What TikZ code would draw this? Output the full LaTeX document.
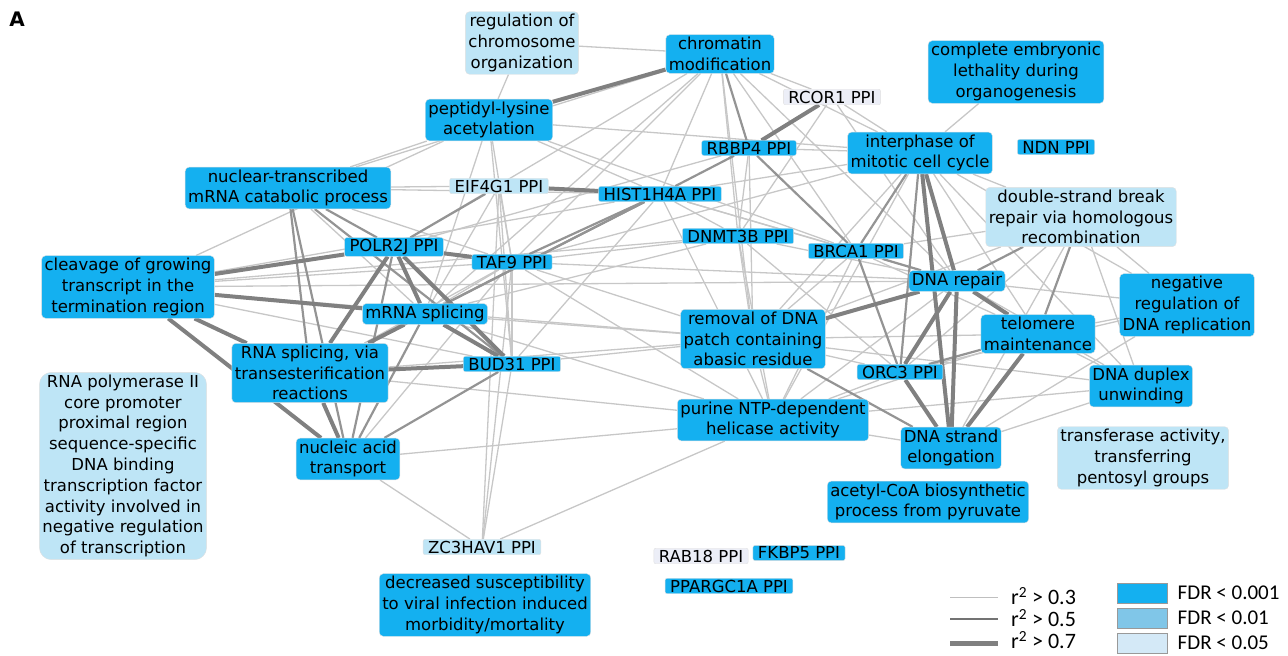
\documentclass[tikz,border=0pt]{standalone}
\usepackage{fontspec}
\setmainfont{DejaVu Sans}
\newfontfamily\legendfont{Carlito}
\usetikzlibrary{backgrounds,positioning}

\definecolor{fdrhi}{RGB}{20,176,240}
\definecolor{fdrmid}{RGB}{128,198,232}
\definecolor{fdrlo}{RGB}{190,229,246}
\definecolor{legendlo}{RGB}{212,233,247}
\definecolor{ppiwhite}{RGB}{236,238,247}

\newcommand{\termfont}{\fontsize{16.5}{20.8}\selectfont}

\tikzset{
  term/.style={rectangle, rounded corners=4pt, draw=black!12, fill=fdrhi,
    align=center, inner xsep=3pt, inner ysep=2.5pt, font=\termfont},
  ppi/.style={term, rounded corners=2pt, inner xsep=5pt, inner ysep=1.5pt},
  weak/.style={draw=black!22, line width=1.3pt},
  mid/.style={draw=black!42, line width=2.2pt},
  strong/.style={draw=black!50, line width=4pt},
  legtext/.style={inner sep=0pt, font=\legendfont\fontsize{21}{21}\selectfont},
  legbox/.style={draw=black!40, line width=1pt, minimum width=50pt, minimum height=20pt}
}

\begin{document}
\begin{tikzpicture}[x=1pt,y=-1pt]
  \useasboundingbox (0,0) rectangle (1288,656);

  % Panel letter
  \node[font=\bfseries\fontsize{20}{20}\selectfont] (panel) at (17,19) {A};

  % GO terms, FDR < 0.001
  \node[term] (chrommod) at (720,54) {chromatin\\modification};
  \node[term] (embryo) at (1016,72) {complete embryonic\\lethality during\\organogenesis};
  \node[term] (peplys) at (489,120) {peptidyl-lysine\\acetylation};
  \node[term] (interph) at (920,153) {interphase of\\mitotic cell cycle};
  \node[term] (nucmrna) at (288,188) {nuclear-transcribed\\mRNA catabolic process};
  \node[term] (cleav) at (128,287) {cleavage of growing\\transcript in the\\termination region};
  \node[term] (dnarep) at (957,281) {DNA repair};
  \node[term] (negrep) at (1187,305) {negative\\regulation of\\DNA replication};
  \node[term] (mrnaspl) at (425,314) {mRNA splicing};
  \node[term] (abasic) at (753,339) {removal of DNA\\patch containing\\abasic residue};
  \node[term] (telo) at (1038,334) {telomere\\maintenance};
  \node[term] (rnaspl) at (310,373) {RNA splicing, via\\transesterification\\reactions};
  \node[term] (duplex) at (1141,386) {DNA duplex\\unwinding};
  \node[term] (purine) at (773,420) {purine NTP-dependent\\helicase activity};
  \node[term] (nucacid) at (348,459) {nucleic acid\\transport};
  \node[term] (strand) at (951,448) {DNA strand\\elongation};
  \node[term] (acetyl) at (928,502) {acetyl-CoA biosynthetic\\process from pyruvate};
  \node[term] (viral) at (485,605) {decreased susceptibility\\to viral infection induced\\morbidity/mortality};

  % GO terms, FDR < 0.05
  \node[term, fill=fdrlo] (regchrom) at (522,43) {regulation of\\chromosome\\organization};
  \node[term, fill=fdrlo] (dsbr) at (1081,217) {double-strand break\\repair via homologous\\recombination};
  \node[term, fill=fdrlo] (transf) at (1143,458) {transferase activity,\\transferring\\pentosyl groups};
  \node[term, fill=fdrlo, rounded corners=12pt] (rnapol) at (123,466) {RNA polymerase II\\core promoter\\proximal region\\sequence-specific\\DNA binding\\transcription factor\\activity involved in\\negative regulation\\of transcription};

  % PPI nodes
  \node[ppi, fill=ppiwhite] (rcor) at (832,97) {RCOR1 PPI};
  \node[ppi] (rbbp) at (749,148) {RBBP4 PPI};
  \node[ppi] (ndn) at (1056,147) {NDN PPI};
  \node[ppi, fill=fdrlo] (eif) at (499,186) {EIF4G1 PPI};
  \node[ppi] (hist) at (660,194) {HIST1H4A PPI};
  \node[ppi] (dnmt) at (738,236) {DNMT3B PPI};
  \node[ppi] (brca) at (856,251) {BRCA1 PPI};
  \node[ppi] (polr) at (394,247) {POLR2J PPI};
  \node[ppi] (taf) at (512,262) {TAF9 PPI};
  \node[ppi] (bud) at (512,364) {BUD31 PPI};
  \node[ppi] (orc) at (900,372) {ORC3 PPI};
  \node[ppi, fill=fdrlo] (zc3) at (482,547) {ZC3HAV1 PPI};
  \node[ppi, fill=ppiwhite] (rab) at (701,556) {RAB18 PPI};
  \node[ppi] (fkbp) at (799,553) {FKBP5 PPI};
  \node[ppi] (ppar) at (729,586) {PPARGC1A PPI};

  \begin{pgfonlayer}{background}
  % Weak correlations
  \path[weak]
    (regchrom) edge (peplys) (regchrom) edge (chrommod)
    (chrommod) edge (rcor) (chrommod) edge (interph) (chrommod) edge (hist)
    (chrommod) edge (dnmt) (chrommod) edge (taf) (chrommod) edge (polr)
    (chrommod) edge (nucmrna) (chrommod) edge (dnarep) (chrommod) edge (brca)
    (chrommod) edge (abasic) (chrommod) edge (mrnaspl)
    (embryo) edge (interph)
    (rcor) edge (interph) (rcor) edge (dnarep) (rcor) edge (dnmt)
    (rbbp) edge (interph) (rbbp) edge (dnmt) (rbbp) edge (abasic) (rbbp) edge (polr)
    (peplys) edge (nucmrna) (peplys) edge (hist) (peplys) edge (interph)
    (peplys) edge (taf) (peplys) edge (mrnaspl) (peplys) edge (cleav)
    (peplys) edge (brca) (peplys) edge (bud)
    (nucmrna) edge (eif) (nucmrna) edge (taf) (nucmrna) edge (mrnaspl) (nucmrna) edge (hist)
    (eif) edge (mrnaspl) (eif) edge (bud) (eif) edge (zc3) (eif) edge (taf)
    (hist) edge (interph) (hist) edge (brca) (hist) edge (dnarep) (hist) edge (dnmt)
    (hist) edge (purine) (hist) edge (cleav) (hist) edge (bud)
    (dnmt) edge (dnarep) (dnmt) edge (orc) (dnmt) edge (abasic) (dnmt) edge (mrnaspl)
    (dnmt) edge (cleav) (dnmt) edge (purine) (dnmt) edge (taf)
    (interph) edge (dsbr) (interph) edge (telo) (interph) edge (abasic)
    (interph) edge (purine) (interph) edge (negrep) (interph) edge (duplex) (interph) edge (taf)
    (dsbr) edge (orc) (dsbr) edge (negrep) (dsbr) edge (duplex) (dsbr) edge (strand)
    (dsbr) edge (abasic) (dsbr) edge (brca)
    (dnarep) edge (negrep) (dnarep) edge (duplex) (dnarep) edge (purine)
    (dnarep) edge (cleav) (dnarep) edge (taf)
    (telo) edge (negrep) (telo) edge (duplex) (telo) edge (abasic) (telo) edge (purine)
    (negrep) edge (strand) (negrep) edge (orc)
    (duplex) edge (strand) (duplex) edge (purine) (duplex) edge (abasic)
    (abasic) edge (purine) (abasic) edge (cleav) (abasic) edge (mrnaspl) (abasic) edge (taf)
    (abasic) edge (bud) (abasic) edge (rnaspl) (abasic) edge (orc)
    (purine) edge (nucacid) (purine) edge (orc) (purine) edge (mrnaspl) (purine) edge (taf)
    (purine) edge (rnaspl) (purine) edge (strand) (purine) edge (zc3)
    (taf) edge (mrnaspl) (taf) edge (bud) (taf) edge (nucacid) (taf) edge (rnaspl) (taf) edge (cleav)
    (cleav) edge (bud) (bud) edge (zc3) (nucacid) edge (zc3) (zc3) edge (taf)
    (brca) edge (abasic) (brca) edge (purine) (brca) edge (telo);

  % Medium correlations
  \path[mid]
    (rbbp) edge (hist) (rbbp) edge (brca) (chrommod) edge (rbbp)
    (hist) edge (mrnaspl) (hist) edge (rnaspl) (taf) edge (hist) (eif) edge (polr)
    (nucmrna) edge (nucacid) (nucmrna) edge (rnaspl) (nucmrna) edge (polr) (nucmrna) edge (bud)
    (polr) edge (nucacid) (mrnaspl) edge (nucacid) (bud) edge (nucacid)
    (interph) edge (orc) (interph) edge (brca) (brca) edge (orc) (brca) edge (dnarep)
    (telo) edge (orc) (abasic) edge (strand) (dsbr) edge (dnarep) (dsbr) edge (telo);

  % Strong correlations
  \path[strong]
    (peplys) edge (chrommod) (rcor) edge (rbbp) (eif) edge (hist)
    (polr) edge (cleav) (polr) edge (taf) (polr) edge (rnaspl) (polr) edge (bud) (polr) edge (mrnaspl)
    (cleav) edge (mrnaspl) (cleav) edge (rnaspl) (cleav) edge (nucacid)
    (mrnaspl) edge (rnaspl) (mrnaspl) edge (bud) (rnaspl) edge (bud) (rnaspl) edge (nucacid)
    (dnarep) edge (abasic) (dnarep) edge (orc) (dnarep) edge (strand) (dnarep) edge (telo)
    (interph) edge (dnarep) (interph) edge (strand) (orc) edge (strand) (telo) edge (strand);
  \end{pgfonlayer}

  % Legend, edge widths
  \draw[draw=black!25, line width=1pt] (950,597) -- (998,597);
  \draw[draw=black!55, line width=2.5pt] (950,619) -- (998,619);
  \draw[draw=black!50, line width=5pt] (950,643) -- (998,643);
  \node[legtext, anchor=west, font=\legendfont\fontsize{22}{22}\selectfont] (r3) at (1011,596) {r\textsuperscript{2} > 0.3};
  \node[legtext, anchor=west, font=\legendfont\fontsize{22}{22}\selectfont] (r5) at (1011,618) {r\textsuperscript{2} > 0.5};
  \node[legtext, anchor=west, font=\legendfont\fontsize{22}{22}\selectfont] (r7) at (1011,640) {r\textsuperscript{2} > 0.7};

  % Legend, FDR colours
  \node[legbox, fill=fdrhi] (fdr1) at (1142,593) {};
  \node[legbox, fill=fdrmid] (fdr2) at (1142,618) {};
  \node[legbox, fill=legendlo] (fdr3) at (1142,643) {};
  \node[legtext, right=10pt of fdr1] (fdrt1) {FDR < 0.001};
  \node[legtext, right=10pt of fdr2] (fdrt2) {FDR < 0.01};
  \node[legtext, right=10pt of fdr3] (fdrt3) {FDR < 0.05};

\end{tikzpicture}
\end{document}
